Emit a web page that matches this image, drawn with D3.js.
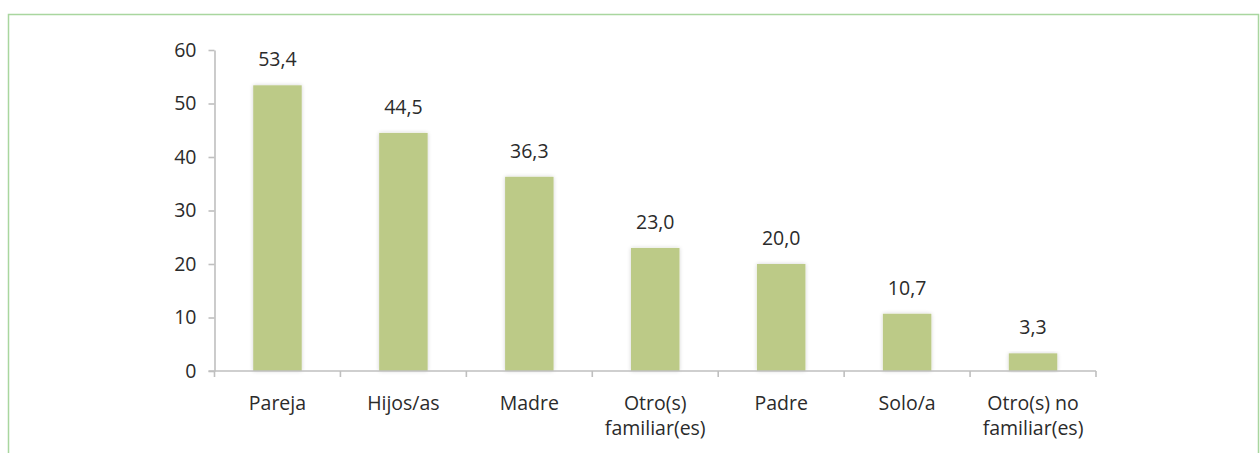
<!DOCTYPE html>
<html>
<head>
<meta charset="utf-8">
<script src="https://cdn.jsdelivr.net/npm/d3@7"></script>
<style>
  body { margin: 0; background: #fff; }
  text { font-family: "Open Sans", "Noto Sans", sans-serif; fill: #2b2b2b; }
</style>
</head>
<body>
<div id="chart"></div>
<script>
// datos
const categories = ["Pareja", "Hijos/as", "Madre", "Otro(s) familiar(es)", "Padre", "Solo/a", "Otro(s) no familiar(es)"];
const values = [53.4, 44.5, 36.3, 23.0, 20.0, 10.7, 3.3];
const labelLines = [["Pareja"], ["Hijos/as"], ["Madre"], ["Otro(s)", "familiar(es)"], ["Padre"], ["Solo/a"], ["Otro(s) no", "familiar(es)"]];
const yTicks = [0, 10, 20, 30, 40, 50, 60];

const width = 1260, height = 453;
const margin = { left: 214.5, right: 164, top: 50, bottom: 82 };

const svg = d3.select("#chart").append("svg")
    .attr("width", width)
    .attr("height", height);

// marco verde
svg.append("path")
    .attr("d", `M8.5,${height} V14.5 H1258.5 V${height}`)
    .attr("fill", "none")
    .attr("stroke", "#a9d69f")
    .attr("stroke-width", 1.5);

const x = d3.scaleBand()
    .domain(categories)
    .range([margin.left, width - margin.right])
    .paddingInner(0.615)
    .paddingOuter(0.3075);

const y = d3.scaleLinear()
    .domain([0, 60])
    .range([height - margin.bottom, margin.top]);

// sombra de barras
const defs = svg.append("defs");
const f = defs.append("filter").attr("id", "sh").attr("x", "-30%").attr("y", "-10%").attr("width", "160%").attr("height", "120%");
f.append("feGaussianBlur").attr("in", "SourceAlpha").attr("stdDeviation", 2).attr("result", "b");
f.append("feComponentTransfer").append("feFuncA").attr("type", "linear").attr("slope", 0.18);
const fm = f.append("feMerge");
fm.append("feMergeNode");
fm.append("feMergeNode").attr("in", "SourceGraphic");

// barras
svg.append("g").selectAll("rect")
    .data(values)
    .join("rect")
    .attr("x", (d, i) => x(categories[i]))
    .attr("y", d => y(d))
    .attr("width", x.bandwidth())
    .attr("height", d => y(0) - y(d))
    .attr("fill", "#bcca87")
    .attr("filter", "url(#sh)");

// eje Y
const yAxis = svg.append("g")
    .attr("transform", `translate(${margin.left},0)`)
    .call(d3.axisLeft(y).tickValues(yTicks).tickSize(6).tickSizeOuter(0).tickPadding(12));
yAxis.select(".domain").attr("stroke", "#bfbfbf").attr("stroke-width", 1.6);
yAxis.selectAll(".tick line").attr("stroke", "#bfbfbf").attr("stroke-width", 1.6);
yAxis.selectAll(".tick text").style("font-size", "19.5px").attr("fill", "#2b2b2b");

// eje X
const xAxisG = svg.append("g").attr("transform", `translate(0,${y(0)})`);
xAxisG.append("line")
    .attr("x1", margin.left - 6).attr("x2", width - margin.right)
    .attr("stroke", "#bfbfbf").attr("stroke-width", 1.6);
const step = x.step();
const boundaries = d3.range(categories.length + 1).map(i => margin.left + i * step);
xAxisG.selectAll(".xt")
    .data(boundaries)
    .join("line")
    .attr("x1", d => d).attr("x2", d => d)
    .attr("y1", 0).attr("y2", 6)
    .attr("stroke", "#bfbfbf").attr("stroke-width", 1.6);

// etiquetas de categoría
const cat = svg.append("g").selectAll("text")
    .data(labelLines)
    .join("text")
    .attr("text-anchor", "middle")
    .style("font-size", "19.5px");
cat.each(function(lines, i) {
    const t = d3.select(this);
    lines.forEach((l, j) => {
        t.append("tspan")
            .attr("x", x(categories[i]) + x.bandwidth() / 2)
            .attr("y", y(0) + 39 + j * 25)
            .text(l);
    });
});

// valores
svg.append("g").selectAll("text")
    .data(values)
    .join("text")
    .attr("x", (d, i) => x(categories[i]) + x.bandwidth() / 2)
    .attr("y", d => y(d) - 19)
    .attr("text-anchor", "middle")
    .style("font-size", "19.5px")
    .text(d => d3.format(".1f")(d).replace(".", ","));
</script>
</body>
</html>
